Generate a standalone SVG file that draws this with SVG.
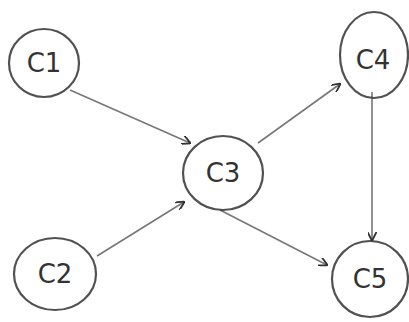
<svg xmlns="http://www.w3.org/2000/svg" width="409" height="322" viewBox="0 0 409 322">
<style>
.node ellipse{fill:none;stroke:#333;stroke-width:2.2;stroke-opacity:0.85}
.node text{font-family:"DejaVu Sans",sans-serif;font-size:26px;fill:#333;text-anchor:middle;dominant-baseline:central}
.edge{stroke:#777;stroke-width:1.6;fill:none;marker-end:url(#arr)}
</style>
<defs>
<marker id="arr" viewBox="0 0 10 10" refX="9" refY="5" markerWidth="9" markerHeight="9" orient="auto" markerUnits="userSpaceOnUse">
<path d="M0,0 L10,5 L0,10" fill="none" stroke="#333" stroke-width="2"/>
</marker>
</defs>
<rect width="409" height="322" fill="#fff"/>
<g id="connectors">
<line class="edge" x1="70" y1="90" x2="190" y2="143"/>
<line class="edge" x1="97" y1="256" x2="184" y2="202"/>
<line class="edge" x1="258" y1="143" x2="340" y2="84"/>
<line class="edge" x1="372" y1="92" x2="372" y2="240"/>
<line class="edge" x1="220" y1="210" x2="327" y2="265"/>
</g>
<g id="C1" class="node"><ellipse cx="44" cy="63" rx="35" ry="34"/><text x="44" y="63">C1</text></g>
<g id="C2" class="node"><ellipse cx="55" cy="274" rx="41" ry="36"/><text x="55" y="274">C2</text></g>
<g id="C3" class="node"><ellipse cx="223" cy="173" rx="40" ry="37"/><text x="223" y="173">C3</text></g>
<g id="C4" class="node"><ellipse cx="374" cy="55" rx="34" ry="43"/><text x="373" y="60">C4</text></g>
<g id="C5" class="node"><ellipse cx="370" cy="279" rx="38" ry="38"/><text x="370" y="279">C5</text></g>
</svg>
